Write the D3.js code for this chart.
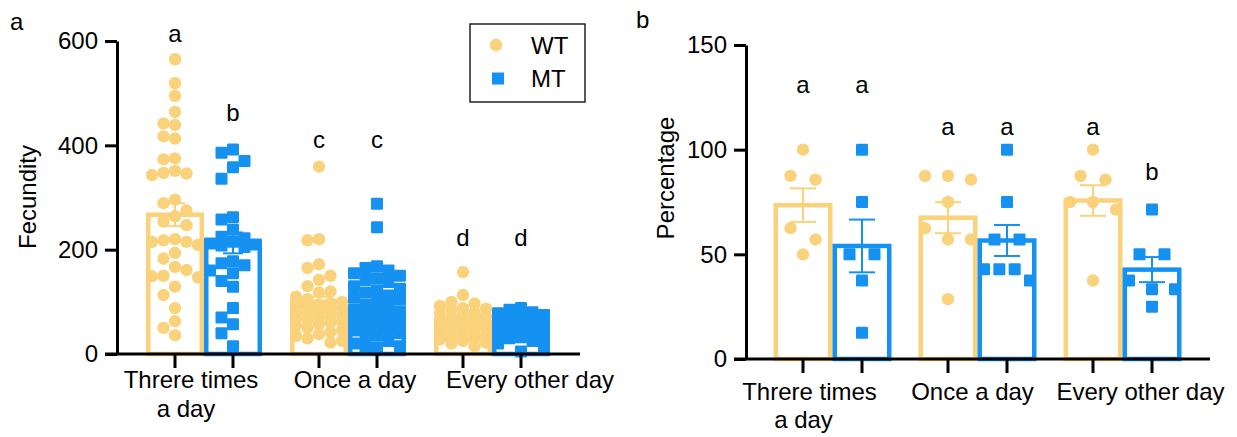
<!DOCTYPE html>
<html><head><meta charset="utf-8">
<script src="https://cdn.jsdelivr.net/npm/d3@7"></script>
<style>
body{margin:0;background:#fff}
text{font-family:"Liberation Sans",Arial,Helvetica,sans-serif;fill:#000}
</style>
</head><body>
<svg id="chart" width="1237" height="437"></svg>
<script>
// ---------------- DATA ----------------
const groups = ["Threre times a day", "Once a day", "Every other day"];
const groupLines = [["Threre times", "a day"], ["Once a day"], ["Every other day"]];
const seriesNames = ["WT", "MT"];

// Panel a: Fecundity (individual values)
const fecundityWT = [
  [565, 519, 495, 464, 442, 439, 417, 413, 375, 373, 351, 347, 346, 343, 296, 289, 275, 264, 254, 247,
   220, 218, 215, 215, 209, 194, 183, 167, 161, 150, 149, 147, 129, 113, 88, 63, 50, 36],
  [359, 220, 218, 172, 165, 150, 142, 130, 120, 118, 110, 105, 100, 98, 95, 92, 90, 88, 85, 82,
   80, 78, 75, 72, 70, 68, 65, 62, 60, 58, 55, 50, 45, 42, 38, 35, 30, 25, 22],
  [157, 113, 100, 97, 92, 88, 87, 85, 80, 78, 75, 72, 70, 68, 65, 62, 60, 58, 55, 52,
   50, 48, 45, 42, 40, 38, 35, 32, 30, 28, 25, 22, 20, 15]
];
const fecundityMT = [
  [392, 386, 370, 358, 336, 262, 258, 238, 225, 222, 215, 212, 210, 208, 205, 178, 174, 170, 160, 155,
   140, 129, 88, 70, 57, 40, 15],
  [288, 243, 168, 165, 160, 155, 150, 145, 142, 138, 130, 125, 122, 118, 112, 108, 104, 100, 95, 90,
   85, 80, 78, 75, 72, 70, 68, 65, 62, 60, 58, 55, 52, 50, 48, 45, 40, 35, 30, 25, 20, 15, 12, 10],
  [88, 85, 80, 78, 75, 72, 68, 65, 62, 60, 58, 55, 52, 50, 48, 45, 42, 40, 38, 35, 32, 30, 25, 20, 15, 5]
];
const fecundityMeanWT = [267, 100, 60];
const fecunditySemWT  = [22, 10, 6];
const fecundityMeanMT = [213, 88, 52];
const fecunditySemMT  = [20, 9, 5];
const fecundityLettersWT = ["a", "c", "d"];
const fecundityLettersMT = ["b", "c", "d"];
const fecundityLetterAtWT = [598, 395, 207];
const fecundityLetterAtMT = [447, 395, 207];
const fecundityTicks = [0, 200, 400, 600];

// Panel b: Percentage
const percentageWT = [
  [100, 87.5, 85.7, 62.5, 57.1, 50],
  [87.5, 87.5, 85.7, 75, 62.5, 57.1, 57.1, 28.6],
  [100, 87.5, 85.7, 75, 75, 71.4, 37.5]
];
const percentageMT = [
  [100, 75, 50, 50, 37.5, 12.5],
  [100, 75, 57.1, 57.1, 42.9, 42.9, 42.9, 37.5],
  [71.4, 50, 50, 37.5, 33.3, 33.3, 25]
];
const percentageMeanWT = [73.5, 67.5, 75.7];
const percentageSemWT  = [8, 7.4, 7.3];
const percentageMeanMT = [54, 56.6, 42.7];
const percentageSemMT  = [12.6, 7.4, 6];
const percentageLettersWT = ["a", "a", "a"];
const percentageLettersMT = ["a", "a", "b"];
const percentageLetterAtWT = [127, 107, 107];
const percentageLetterAtMT = [127, 107, 85.5];
const percentageTicks = [0, 50, 100, 150];

// ---------------- STYLE / LAYOUT ----------------
const colors = { WT: "#F9D27B", MT: "#1592F1" };
const FONT = 24;

const svg = d3.select("#chart");

// row-based swarm (few points)
function rowSwarm(values, y, cfg) {
  const pts = values.map(v => ({ v })).sort((a, b) => b.v - a.v);
  const rows = [];
  let cur = null;
  pts.forEach(p => {
    if (!cur || y(p.v) - y(cur[0].v) >= cfg.rowPx) { cur = [p]; rows.push(cur); }
    else cur.push(p);
  });
  rows.forEach(r => {
    const k = r.length;
    const sp = k > 1 ? Math.min(cfg.spacing, cfg.maxW / (k - 1)) : 0;
    r.forEach((p, i) => { p.dx = (i - (k - 1) / 2) * sp; });
  });
  return pts;
}

// grid column swarm (many points, overlap allowed when full)
function gridSwarm(values, y, cfg) {
  const pts = values.map(v => ({ v, py: y(v) })).sort((a, b) => b.v - a.v);
  const cands = [0];
  for (let k = 1; k <= cfg.maxCols; k++) cands.push(-k * cfg.spacing, k * cfg.spacing);
  const placed = [];
  pts.forEach(p => {
    let best = null, bestScore = -Infinity;
    for (const c of cands) {
      let minD = Infinity;
      placed.forEach(q => {
        const dd = Math.hypot(q.dx - c, q.py - p.py);
        if (dd < minD) minD = dd;
      });
      if (minD >= cfg.d) { best = c; break; }
      if (minD > bestScore + 0.5) { bestScore = minD; best = c; }
    }
    p.dx = best;
    placed.push(p);
  });
  return pts;
}

function drawPanel(cfg) {
  const g = svg.append("g");
  const y = d3.scaleLinear().domain([0, cfg.yMax]).range([cfg.yBottom, cfg.yTop]);
  const gx = d3.scalePoint().domain(groups).range(cfg.groupRange);
  const sx = d3.scalePoint().domain(seriesNames).range([-cfg.half, cfg.half]);

  const bars = [];
  groups.forEach((grp, gi) => {
    seriesNames.forEach(s => {
      const d = cfg.data[s];
      bars.push({
        group: grp, gi, series: s,
        cx: gx(grp) + sx(s),
        mean: d.mean[gi], sem: d.sem[gi],
        values: d.values[gi], letter: d.letters[gi], letterAt: d.letterAt[gi]
      });
    });
  });

  const bw = cfg.half * 2;
  const sw = cfg.barStroke;
  g.selectAll("rect.bar").data(bars).join("rect")
    .attr("class", "bar")
    .attr("x", d => d.cx - bw / 2 + sw / 2)
    .attr("width", bw - sw)
    .attr("y", d => y(d.mean))
    .attr("height", d => y(0) - y(d.mean))
    .attr("fill", "#fff")
    .attr("stroke", d => colors[d.series])
    .attr("stroke-width", sw);

  bars.forEach(b => {
    const pts = cfg.swarm(b.values, y, cfg);
    const col = colors[b.series];
    if (b.series === "WT") {
      g.selectAll(null).data(pts).join("circle")
        .attr("cx", p => b.cx + p.dx).attr("cy", p => y(p.v))
        .attr("r", cfg.r).attr("fill", col);
    } else {
      g.selectAll(null).data(pts).join("rect")
        .attr("x", p => b.cx + p.dx - cfg.sq / 2).attr("y", p => y(p.v) - cfg.sq / 2)
        .attr("width", cfg.sq).attr("height", cfg.sq).attr("rx", 1.2)
        .attr("fill", col);
    }
  });

  const eb = g.selectAll("g.err").data(bars).join("g").attr("class", "err")
    .attr("stroke", d => colors[d.series]).attr("stroke-width", 2);
  eb.append("line").attr("x1", d => d.cx).attr("x2", d => d.cx)
    .attr("y1", d => y(d.mean + d.sem)).attr("y2", d => y(d.mean - d.sem));
  eb.append("line").attr("x1", d => d.cx - cfg.whisker).attr("x2", d => d.cx + cfg.whisker)
    .attr("y1", d => y(d.mean + d.sem)).attr("y2", d => y(d.mean + d.sem));
  eb.append("line").attr("x1", d => d.cx - cfg.whisker).attr("x2", d => d.cx + cfg.whisker)
    .attr("y1", d => y(d.mean - d.sem)).attr("y2", d => y(d.mean - d.sem));

  g.selectAll("text.letter").data(bars).join("text")
    .attr("class", "letter")
    .attr("x", d => d.cx).attr("y", d => y(d.letterAt))
    .attr("text-anchor", "middle").attr("font-size", FONT)
    .text(d => d.letter);

  const ya = g.append("g").attr("transform", `translate(${cfg.x0},0)`)
    .call(d3.axisLeft(y).tickValues(cfg.ticks).tickSize(12).tickSizeOuter(0).tickPadding(7));
  ya.select(".domain").attr("stroke", "#000").attr("stroke-width", 3);
  ya.selectAll(".tick line").attr("stroke", "#000").attr("stroke-width", 3);
  ya.selectAll(".tick text").attr("font-size", FONT).attr("font-family", "Liberation Sans, Arial, sans-serif").attr("fill", "#000");

  g.append("line").attr("x1", cfg.x0 - 12).attr("x2", cfg.x1)
    .attr("y1", y(0)).attr("y2", y(0)).attr("stroke", "#000").attr("stroke-width", 3);
  g.selectAll("line.xt").data(bars).join("line").attr("class", "xt")
    .attr("x1", d => d.cx).attr("x2", d => d.cx)
    .attr("y1", y(0)).attr("y2", y(0) + 14)
    .attr("stroke", "#000").attr("stroke-width", 3);

  groups.forEach((grp, gi) => {
    groupLines[gi].forEach((line, li) => {
      g.append("text")
        .attr("x", gx(grp) + cfg.labelDx[gi] + (li === 1 ? cfg.line2Dx : 0))
        .attr("y", y(0) + cfg.labelBase + li * cfg.lineGap)
        .attr("text-anchor", "middle").attr("font-size", FONT)
        .text(line);
    });
  });

  g.append("text")
    .attr("transform", `translate(${cfg.titleX},${cfg.titleY}) rotate(-90)`)
    .attr("text-anchor", "middle").attr("font-size", FONT)
    .text(cfg.title);

  g.append("text").attr("x", cfg.panelX).attr("y", cfg.panelY)
    .attr("font-size", FONT).text(cfg.panel);
}

drawPanel({
  panel: "a", panelX: 10, panelY: 30,
  title: "Fecundity", titleX: 36, titleY: 197,
  yMax: 600, yTop: 41, yBottom: 354, x0: 117, x1: 580,
  groupRange: [204, 492], half: 29, barStroke: 4.5,
  ticks: fecundityTicks,
  r: 6.2, sq: 12, swarm: gridSwarm, d: 11.5, spacing: 11.5, maxCols: 2, whisker: 10,
  labelDx: [-13, 7, 38], line2Dx: -5, labelBase: 34, lineGap: 29,
  data: {
    WT: { values: fecundityWT, mean: fecundityMeanWT, sem: fecunditySemWT, letters: fecundityLettersWT, letterAt: fecundityLetterAtWT },
    MT: { values: fecundityMT, mean: fecundityMeanMT, sem: fecunditySemMT, letters: fecundityLettersMT, letterAt: fecundityLetterAtMT }
  }
});

drawPanel({
  panel: "b", panelX: 636, panelY: 28,
  title: "Percentage", titleX: 674, titleY: 178,
  yMax: 150, yTop: 45, yBottom: 359, x0: 746, x1: 1210,
  groupRange: [832.5, 1122.5], half: 29.5, barStroke: 4.5,
  ticks: percentageTicks,
  r: 6.2, sq: 12, swarm: rowSwarm, rowPx: 12.5, spacing: 25, maxW: 46, whisker: 13,
  labelDx: [-23, -5, 18], line2Dx: -6, labelBase: 41, lineGap: 28,
  data: {
    WT: { values: percentageWT, mean: percentageMeanWT, sem: percentageSemWT, letters: percentageLettersWT, letterAt: percentageLetterAtWT },
    MT: { values: percentageMT, mean: percentageMeanMT, sem: percentageSemMT, letters: percentageLettersMT, letterAt: percentageLetterAtMT }
  }
});

// legend
const lg = svg.append("g");
lg.append("rect").attr("x", 470).attr("y", 24).attr("width", 115).attr("height", 78)
  .attr("fill", "#fff").attr("stroke", "#222").attr("stroke-width", 1.5);
seriesNames.forEach((s, i) => {
  const cy = 45 + i * 33.5;
  if (s === "WT") lg.append("circle").attr("cx", 496).attr("cy", cy).attr("r", 6.2).attr("fill", colors[s]);
  else lg.append("rect").attr("x", 492).attr("y", cy - 6).attr("width", 12).attr("height", 12).attr("fill", colors[s]);
  lg.append("text").attr("x", 531).attr("y", cy + 8.5).attr("font-size", FONT).text(s);
});
</script>
</body></html>
